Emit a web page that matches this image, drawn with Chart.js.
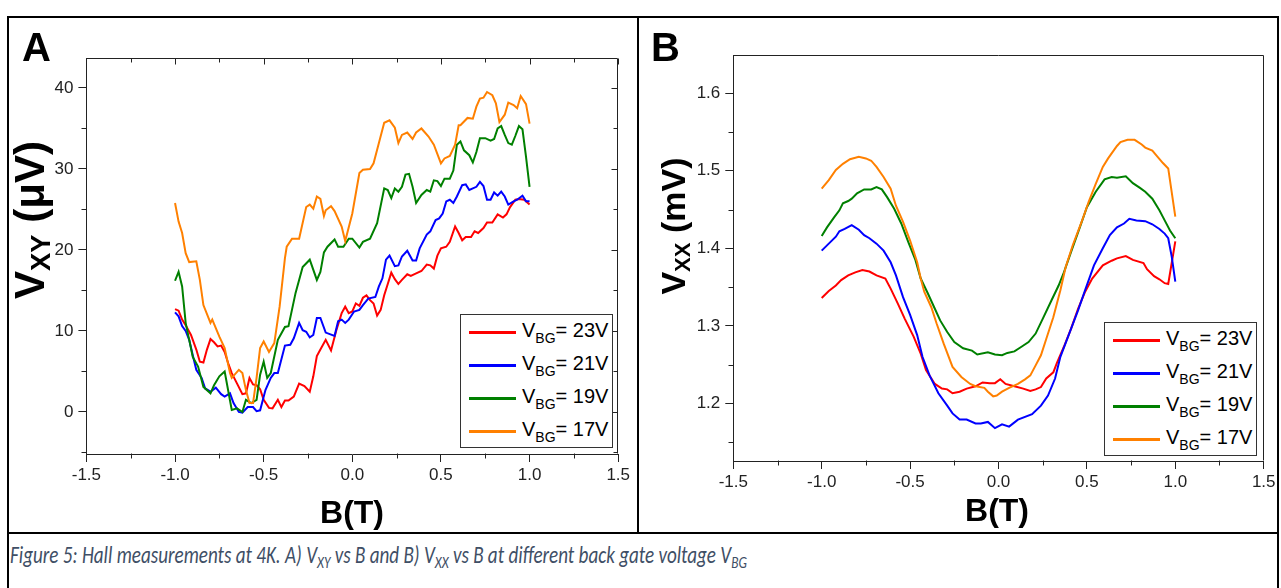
<!DOCTYPE html>
<html>
<head>
<meta charset="utf-8">
<script src="https://cdn.jsdelivr.net/npm/chart.js@4.4.1/dist/chart.umd.min.js"></script>
<style>
    body { margin: 0; width: 1281px; height: 588px; background: #fff; position: relative; overflow: hidden;
           font-family: "Liberation Sans", Arial, sans-serif; color: #000; }
    canvas { position: absolute; top: 0; }
    .rule { position: absolute; background: #000; }
    .letter { position: absolute; font-weight: bold; font-size: 40px; line-height: 40px; }
    .ytitle { position: absolute; width: 320px; height: 44px; line-height: 44px; text-align: center;
              font-weight: bold; transform: rotate(-90deg); white-space: nowrap; }
    .ytitle .sub { font-size: 0.65em; position: relative; top: 0.22em; }
    .xtitle { position: absolute; width: 200px; text-align: center; font-weight: bold; font-size: 32px; line-height: 36px; }
    .legend { position: absolute; box-sizing: border-box; width: 153px; height: 134px; border: 1px solid #333; background: #fff; }
    .legend .row { position: absolute; left: 0; width: 150px; height: 24px; line-height: 24px; }
    .legend .swatch { position: absolute; left: 8px; top: 11px; width: 47px; height: 3px; }
    .legend .txt { position: absolute; left: 61px; top: -2px; font-size: 20px; white-space: nowrap; }
    .legend .txt .sub { font-size: 14px; position: relative; top: 6px; }
    #caption { position: absolute; left: 10px; top: 540px; font-style: italic; font-size: 24px; color: #3f4f66;
               white-space: nowrap; font-family: Carlito, Lato, "Open Sans", sans-serif; transform-origin: 0 0; }
    #caption .sub { font-size: 0.7em; position: relative; top: 0.3em; }
</style>
</head>
<body>

<canvas id="chartA" width="637" height="533" style="left:0"></canvas>
<canvas id="chartB" width="643" height="533" style="left:638px"></canvas>

<!-- frame lines -->
<div class="rule" style="left:7px; top:16px; width:1272px; height:2px"></div>
<div class="rule" style="left:7px; top:16px; width:2px; height:572px"></div>
<div class="rule" style="left:1277px; top:16px; width:2px; height:572px"></div>
<div class="rule" style="left:637px; top:16px; width:2px; height:518px"></div>
<div class="rule" style="left:7px; top:532px; width:1272px; height:2px"></div>

<div class="letter" style="left:22px; top:27px">A</div>
<div class="letter" style="left:651px; top:27px">B</div>

<div class="ytitle" style="left:-130px; top:198px; font-size:42px">V<span class="sub">XY</span> (μV)</div>
<div class="ytitle" style="left:513px; top:204px; font-size:34px">V<span class="sub">XX</span> (mV)</div>

<div class="xtitle" style="left:252px; top:494px">B(T)</div>
<div class="xtitle" style="left:897px; top:492px">B(T)</div>

<div class="legend" id="legendA" style="left:460px; top:314px"></div>
<div class="legend" id="legendB" style="left:1104px; top:322px"></div>

<div id="caption">Figure 5: Hall measurements at 4K. A) V<span class="sub">XY</span> vs B and B) V<span class="sub">XX</span> vs B at different back gate voltage V<span class="sub">BG</span></div>

<script>
// back gate voltages and their line colours
const gateVolts = [23, 21, 19, 17];
const lineColors = ['#ff0000', '#0000ff', '#008000', '#ff8000'];

// Panel A: Hall voltage V_XY (uV) vs B (T), pairs of [B, V]
const vxy23 = [[-1.00,12.7],[-0.98,12.5],[-0.96,11.4],[-0.94,10.7],[-0.91,9.5],[-0.88,7.7],[-0.86,6.2],[-0.84,6.1],[-0.82,7.7],[-0.80,9.0],[-0.78,8.6],[-0.76,8.1],[-0.74,8.2],[-0.72,7.4],[-0.70,6.0],[-0.68,4.8],[-0.65,3.5],[-0.62,2.2],[-0.60,2.3],[-0.58,4.2],[-0.56,3.4],[-0.54,3.3],[-0.52,2.8],[-0.50,1.5],[-0.47,0.5],[-0.45,0.45],[-0.42,1.5],[-0.40,0.6],[-0.38,1.4],[-0.36,1.4],[-0.33,1.9],[-0.30,3.5],[-0.27,3.2],[-0.24,2.5],[-0.22,4.4],[-0.20,6.9],[-0.18,7.7],[-0.15,8.9],[-0.12,7.6],[-0.09,10.1],[-0.06,12.2],[-0.04,13.0],[-0.02,12.2],[0.00,12.4],[0.02,13.4],[0.04,13.1],[0.06,14.1],[0.08,14.4],[0.10,13.8],[0.12,13.4],[0.14,11.9],[0.16,12.6],[0.18,14.4],[0.20,15.8],[0.22,17.2],[0.24,16.4],[0.26,15.8],[0.28,16.3],[0.31,17.0],[0.33,16.8],[0.36,17.1],[0.39,17.4],[0.42,18.2],[0.44,18.1],[0.46,17.7],[0.48,19.3],[0.50,20.2],[0.53,20.4],[0.55,21.0],[0.58,22.9],[0.60,22.1],[0.62,21.2],[0.64,21.6],[0.67,21.6],[0.69,22.3],[0.71,22.1],[0.74,22.7],[0.76,23.4],[0.79,23.4],[0.82,24.4],[0.85,24.0],[0.87,24.4],[0.89,25.3],[0.92,26.2],[0.94,26.3],[0.97,26.2],[1.00,25.6]];
const vxy21 = [[-1.00,12.3],[-0.98,11.8],[-0.96,10.6],[-0.94,10.0],[-0.92,8.9],[-0.90,7.0],[-0.88,5.2],[-0.85,4.2],[-0.83,2.9],[-0.80,2.5],[-0.77,3.0],[-0.74,2.2],[-0.72,1.9],[-0.69,2.3],[-0.67,1.1],[-0.64,0.0],[-0.62,-0.1],[-0.59,0.6],[-0.56,0.6],[-0.54,0.1],[-0.52,0.2],[-0.49,2.7],[-0.46,4.2],[-0.44,4.8],[-0.42,4.8],[-0.38,8.2],[-0.35,8.3],[-0.33,9.1],[-0.30,11.0],[-0.28,10.1],[-0.26,9.9],[-0.24,9.2],[-0.22,9.5],[-0.20,11.6],[-0.18,11.6],[-0.15,9.8],[-0.10,9.4],[-0.08,11.2],[-0.06,11.4],[-0.04,11.0],[-0.02,11.4],[0.01,12.4],[0.04,12.6],[0.06,13.2],[0.09,14.0],[0.13,14.2],[0.15,15.5],[0.17,16.5],[0.19,18.8],[0.21,19.3],[0.24,18.0],[0.26,18.1],[0.28,19.2],[0.31,19.9],[0.34,18.7],[0.36,18.7],[0.38,20.2],[0.42,21.9],[0.44,22.3],[0.47,23.7],[0.49,23.9],[0.51,24.5],[0.53,26.0],[0.55,26.2],[0.57,25.8],[0.59,26.6],[0.62,28.0],[0.64,28.1],[0.66,27.4],[0.68,27.6],[0.70,27.8],[0.72,28.4],[0.74,27.9],[0.76,26.2],[0.78,26.2],[0.80,27.1],[0.82,26.7],[0.84,27.2],[0.86,26.6],[0.88,25.6],[0.91,26.0],[0.93,26.2],[0.96,26.7],[0.98,26.0],[1.00,26.0]];
const vxy19 = [[-1.00,16.2],[-0.98,17.3],[-0.96,15.5],[-0.94,11.0],[-0.92,8.9],[-0.90,6.8],[-0.87,5.6],[-0.84,3.1],[-0.80,2.3],[-0.78,3.3],[-0.75,4.4],[-0.72,5.0],[-0.68,0.25],[-0.65,0.45],[-0.62,0.0],[-0.60,1.5],[-0.57,1.1],[-0.54,1.5],[-0.52,4.6],[-0.50,6.2],[-0.48,4.2],[-0.46,4.8],[-0.42,8.9],[-0.38,10.5],[-0.36,10.6],[-0.32,14.7],[-0.28,17.9],[-0.24,18.8],[-0.20,16.3],[-0.18,17.3],[-0.16,19.7],[-0.14,20.4],[-0.10,21.3],[-0.08,20.4],[-0.05,20.4],[-0.02,21.4],[0.00,21.4],[0.04,20.3],[0.06,21.0],[0.10,21.4],[0.14,23.3],[0.18,27.6],[0.20,27.4],[0.22,26.4],[0.24,27.6],[0.26,27.2],[0.28,27.8],[0.30,29.3],[0.32,29.4],[0.34,27.8],[0.36,25.8],[0.39,26.8],[0.42,27.4],[0.44,27.2],[0.46,28.6],[0.48,28.5],[0.50,27.9],[0.52,28.8],[0.55,28.8],[0.57,29.8],[0.59,33.0],[0.61,33.4],[0.63,32.3],[0.66,31.7],[0.68,30.8],[0.70,32.1],[0.72,33.8],[0.75,33.8],[0.78,33.5],[0.80,33.7],[0.82,35.0],[0.84,35.3],[0.86,34.2],[0.88,33.2],[0.90,33.0],[0.92,34.1],[0.94,35.3],[0.96,34.9],[0.98,31.5],[1.00,27.8]];
const vxy17 = [[-1.00,25.8],[-0.98,23.5],[-0.96,22.1],[-0.94,19.6],[-0.92,18.5],[-0.88,18.6],[-0.86,16.3],[-0.84,13.2],[-0.80,11.0],[-0.79,11.4],[-0.75,9.3],[-0.72,7.9],[-0.69,4.8],[-0.68,4.2],[-0.64,5.2],[-0.62,4.8],[-0.60,2.7],[-0.58,1.1],[-0.56,1.1],[-0.54,4.2],[-0.52,7.9],[-0.50,8.7],[-0.47,7.4],[-0.44,8.5],[-0.41,13.0],[-0.38,19.0],[-0.37,20.4],[-0.34,21.4],[-0.30,21.4],[-0.26,25.3],[-0.24,25.6],[-0.22,25.1],[-0.20,26.6],[-0.18,26.3],[-0.16,24.2],[-0.15,24.9],[-0.12,25.4],[-0.10,24.8],[-0.06,22.9],[-0.04,21.1],[0.00,24.5],[0.02,27.0],[0.04,29.5],[0.06,29.9],[0.10,30.0],[0.12,30.7],[0.15,33.2],[0.18,35.7],[0.21,36.0],[0.24,35.1],[0.26,33.2],[0.28,34.2],[0.31,34.5],[0.34,33.7],[0.36,34.5],[0.39,35.0],[0.43,34.0],[0.46,33.0],[0.50,30.7],[0.52,31.3],[0.55,31.6],[0.58,33.0],[0.60,35.4],[0.61,35.4],[0.65,36.3],[0.68,36.2],[0.70,37.7],[0.72,38.7],[0.74,38.8],[0.76,39.5],[0.79,39.1],[0.81,38.1],[0.83,35.8],[0.86,36.7],[0.88,38.2],[0.91,37.9],[0.93,37.5],[0.95,39.0],[0.98,38.0],[1.00,35.6]];

// Panel B: longitudinal voltage V_XX (mV) vs B (T), pairs of [B, V]
const vxx23 = [[-1.00,1.336],[-0.96,1.345],[-0.92,1.352],[-0.89,1.359],[-0.85,1.365],[-0.81,1.369],[-0.77,1.372],[-0.73,1.370],[-0.69,1.365],[-0.64,1.361],[-0.61,1.348],[-0.57,1.329],[-0.53,1.309],[-0.48,1.286],[-0.44,1.264],[-0.41,1.243],[-0.36,1.225],[-0.32,1.219],[-0.29,1.218],[-0.26,1.213],[-0.22,1.215],[-0.18,1.219],[-0.13,1.222],[-0.09,1.227],[-0.05,1.226],[-0.02,1.226],[0.01,1.231],[0.04,1.225],[0.09,1.222],[0.14,1.219],[0.18,1.216],[0.21,1.218],[0.24,1.221],[0.27,1.232],[0.31,1.240],[0.33,1.252],[0.37,1.273],[0.41,1.296],[0.45,1.322],[0.49,1.344],[0.53,1.361],[0.59,1.378],[0.64,1.384],[0.67,1.387],[0.72,1.390],[0.76,1.385],[0.82,1.381],[0.84,1.373],[0.88,1.364],[0.91,1.360],[0.94,1.355],[0.96,1.354],[1.00,1.409]];
const vxx21 = [[-1.00,1.397],[-0.96,1.406],[-0.92,1.415],[-0.90,1.422],[-0.87,1.425],[-0.83,1.430],[-0.79,1.424],[-0.76,1.417],[-0.73,1.413],[-0.69,1.406],[-0.65,1.397],[-0.61,1.382],[-0.58,1.365],[-0.54,1.337],[-0.50,1.314],[-0.46,1.288],[-0.43,1.260],[-0.39,1.236],[-0.34,1.213],[-0.29,1.197],[-0.26,1.187],[-0.22,1.179],[-0.18,1.179],[-0.13,1.174],[-0.10,1.174],[-0.06,1.176],[-0.02,1.168],[0.02,1.173],[0.06,1.170],[0.11,1.179],[0.19,1.186],[0.24,1.197],[0.28,1.210],[0.32,1.232],[0.35,1.260],[0.40,1.290],[0.45,1.320],[0.49,1.346],[0.54,1.378],[0.59,1.400],[0.63,1.417],[0.67,1.427],[0.71,1.432],[0.74,1.438],[0.78,1.436],[0.83,1.435],[0.87,1.431],[0.91,1.425],[0.94,1.419],[0.96,1.413],[0.98,1.389],[1.00,1.357]];
const vxx19 = [[-1.00,1.416],[-0.97,1.427],[-0.93,1.440],[-0.90,1.449],[-0.88,1.458],[-0.85,1.461],[-0.83,1.464],[-0.80,1.471],[-0.76,1.476],[-0.72,1.476],[-0.69,1.479],[-0.66,1.476],[-0.63,1.466],[-0.59,1.451],[-0.55,1.432],[-0.51,1.408],[-0.47,1.385],[-0.44,1.361],[-0.40,1.342],[-0.36,1.322],[-0.33,1.307],[-0.29,1.292],[-0.25,1.279],[-0.20,1.271],[-0.15,1.268],[-0.12,1.263],[-0.06,1.266],[-0.02,1.263],[0.02,1.262],[0.05,1.265],[0.09,1.267],[0.13,1.273],[0.17,1.279],[0.21,1.290],[0.25,1.309],[0.30,1.333],[0.34,1.352],[0.37,1.369],[0.41,1.395],[0.46,1.427],[0.50,1.453],[0.55,1.473],[0.60,1.489],[0.64,1.492],[0.67,1.491],[0.72,1.493],[0.76,1.484],[0.80,1.478],[0.83,1.473],[0.87,1.464],[0.91,1.449],[0.94,1.436],[0.97,1.423],[1.00,1.413]];
const vxx17 = [[-1.00,1.477],[-0.96,1.488],[-0.92,1.501],[-0.88,1.509],[-0.84,1.515],[-0.79,1.518],[-0.75,1.516],[-0.72,1.513],[-0.69,1.505],[-0.65,1.492],[-0.61,1.477],[-0.58,1.455],[-0.54,1.434],[-0.50,1.410],[-0.46,1.382],[-0.44,1.361],[-0.42,1.344],[-0.38,1.324],[-0.35,1.303],[-0.31,1.277],[-0.26,1.247],[-0.21,1.234],[-0.16,1.225],[-0.13,1.222],[-0.08,1.220],[-0.06,1.215],[-0.03,1.209],[-0.01,1.210],[0.02,1.215],[0.06,1.220],[0.11,1.225],[0.15,1.231],[0.18,1.236],[0.21,1.249],[0.24,1.262],[0.27,1.283],[0.31,1.311],[0.35,1.346],[0.38,1.376],[0.42,1.404],[0.47,1.434],[0.51,1.460],[0.55,1.483],[0.59,1.505],[0.62,1.516],[0.67,1.532],[0.69,1.537],[0.73,1.540],[0.77,1.540],[0.81,1.534],[0.83,1.530],[0.87,1.526],[0.90,1.518],[0.93,1.510],[0.96,1.503],[1.00,1.441]];

const axisColor = '#222';
const tickFont = { family: 'Liberation Sans', size: 17 };

// top/right frame lines plus minor ticks (and mirrored inner ticks on panel A)
const frameTicks = {
    id: 'frameTicks',
    afterDraw(chart, args, o) {
        const { ctx, chartArea: a } = chart;
        const xs = chart.scales.x, ys = chart.scales.y;
        const L = Math.round(a.left) + 0.5, R = Math.round(a.right) - 0.5;
        const T = Math.round(a.top) + 0.5, B = Math.round(a.bottom) - 0.5;
        const values = (s, step) => {
            const out = [];
            for (let v = Math.ceil(s.min / step - 1e-9) * step; v <= s.max + 1e-9; v += step) out.push(+v.toFixed(6));
            return out;
        };
        const major = (v, step) => Math.abs(v / step - Math.round(v / step)) < 1e-6;

        ctx.save();
        ctx.strokeStyle = axisColor;
        ctx.lineWidth = 1;
        ctx.beginPath();
        ctx.moveTo(L, T); ctx.lineTo(R, T); ctx.lineTo(R, B);

        values(xs, o.xMinor).forEach(v => {
            const p = Math.round(xs.getPixelForValue(v)) + 0.5;
            const isMaj = major(v, o.xMajor);
            if (!isMaj) { ctx.moveTo(p, B); ctx.lineTo(p, B + 5); }
            if (o.mirror) { ctx.moveTo(p, T); ctx.lineTo(p, T + (isMaj ? 6 : 4)); }
        });
        values(ys, o.yMinor).forEach(v => {
            const p = Math.round(ys.getPixelForValue(v)) + 0.5;
            const isMaj = major(v, o.yMajor);
            if (!isMaj) { ctx.moveTo(L, p); ctx.lineTo(L - 5, p); }
            if (o.mirror) { ctx.moveTo(R, p); ctx.lineTo(R - (isMaj ? 6 : 4), p); }
        });
        ctx.stroke();
        ctx.restore();
    }
};

function buildChart(id, series, cfg) {
    return new Chart(document.getElementById(id), {
        type: 'line',
        data: {
            datasets: series.map((pts, i) => ({
                label: 'V_BG= ' + gateVolts[i] + 'V',
                data: pts.map(p => ({ x: p[0], y: p[1] })),
                borderColor: lineColors[i],
                borderWidth: 2,
                pointRadius: 0,
                tension: 0,
                fill: false,
                order: series.length - i
            }))
        },
        options: {
            responsive: false,
            animation: false,
            devicePixelRatio: 1,
            layout: { padding: cfg.padding },
            plugins: {
                legend: { display: false },
                tooltip: { enabled: false },
                frameTicks: { xMajor: 0.5, xMinor: 0.25, yMajor: cfg.yStep, yMinor: cfg.yStep / 2, mirror: cfg.mirror }
            },
            scales: {
                x: {
                    type: 'linear', min: -1.5, max: 1.5,
                    afterFit: s => { s.height = cfg.xHeight; },
                    ticks: { stepSize: 0.5, maxRotation: 0, autoSkip: false, includeBounds: false, padding: 3,
                             color: axisColor, font: tickFont, callback: v => v.toFixed(1) },
                    grid: { drawOnChartArea: false, tickLength: 8, color: axisColor },
                    border: { color: axisColor, width: 1 }
                },
                y: {
                    min: cfg.yMin, max: cfg.yMax,
                    afterFit: s => { s.width = cfg.yWidth; },
                    ticks: { stepSize: cfg.yStep, includeBounds: false, padding: 5,
                             color: axisColor, font: tickFont, callback: cfg.yFmt },
                    grid: { drawOnChartArea: false, tickLength: 8, color: axisColor },
                    border: { color: axisColor, width: 1 }
                }
            }
        },
        plugins: [frameTicks]
    });
}

buildChart('chartA', [vxy23, vxy21, vxy19, vxy17], {
    padding: { left: 0, top: 58, right: 18.8, bottom: 0 },
    xHeight: 79, yWidth: 86.4,
    yMin: -5.19, yMax: 43.7, yStep: 10, yFmt: v => String(Math.round(v)), mirror: true
});

buildChart('chartB', [vxx23, vxx21, vxx19, vxx17], {
    padding: { left: 0, top: 55, right: 17.3, bottom: 0 },
    xHeight: 72, yWidth: 95.3,
    yMin: 1.1256, yMax: 1.6494, yStep: 0.1, yFmt: v => v.toFixed(1), mirror: false
});

// HTML legends (for the subscripts)
function fillLegend(id) {
    const box = document.getElementById(id);
    gateVolts.forEach((g, i) => {
        const row = document.createElement('div');
        row.className = 'row';
        row.style.top = (5 + i * 33) + 'px';
        row.innerHTML = '<div class="swatch" style="background:' + lineColors[i] + '"></div>' +
            '<span class="txt">V<span class="sub">BG</span>= ' + g + 'V</span>';
        box.appendChild(row);
    });
}
fillLegend('legendA');
fillLegend('legendB');

// caption is set in a narrow face in the source; squeeze to its measured width
const cap = document.getElementById('caption');
cap.style.transform = 'scaleX(' + (737 / cap.offsetWidth) + ')';
</script>
</body>
</html>
